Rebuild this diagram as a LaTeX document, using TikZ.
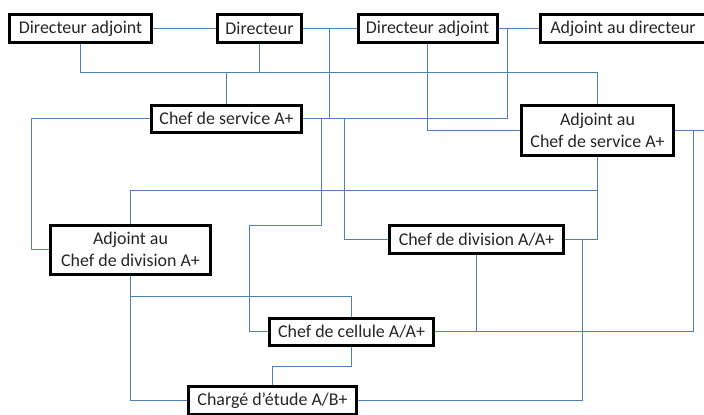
\documentclass[tikz,border=0pt]{standalone}
\usepackage{fontspec}
\setmainfont{Carlito}
\usepackage{tikz}
\definecolor{lienbleu}{HTML}{4F81BD}

\begin{document}
\begin{tikzpicture}[x=1bp,y=-1bp,
	poste/.style={draw=black, line width=3bp, fill=white, inner sep=0pt, align=center, text=black!85, font=\fontsize{18}{22.5}\selectfont},
	lien/.style={draw=lienbleu, line width=1bp}]
				\useasboundingbox (0,0) rectangle (704,414);
				\clip (0,0) rectangle (704,414);
				\node [poste, minimum width=141bp, minimum height=28bp] (DA1) at (80.5,28.5) {Directeur adjoint};
				\node [poste, minimum width=84bp, minimum height=28bp] (D) at (259.5,28.5) {Directeur};
				\node [poste, minimum width=139bp, minimum height=28bp] (DA2) at (427.5,28.5) {Directeur adjoint};
				\node [poste, minimum width=165bp, minimum height=28bp] (AD) at (623,28.5) {Adjoint au directeur};
				\node [poste, minimum width=150bp, minimum height=27bp] (CS) at (226.5,118.5) {Chef de service A+};
				\node [poste, minimum width=152bp, minimum height=50bp] (ACS) at (597.5,130.5) {Adjoint au\\Chef de service A+};
				\node [poste, minimum width=160bp, minimum height=49bp] (ACD) at (130.5,249.5) {Adjoint au\\Chef de division A+};
				\node [poste, minimum width=174bp, minimum height=28bp] (CD) at (476.5,239.5) {Chef de division A/A+};
				\node [poste, minimum width=164bp, minimum height=27bp] (CC) at (351.5,331.5) {Chef de cellule A/A+};
				\node [poste, minimum width=168bp, minimum height=28bp] (CE) at (272.5,400.5) {Charg\'e d'\'etude A/B+};
				\draw [lien] (DA1) -- (D);
				\draw [lien] (D) -- (DA2);
				\draw [lien] (DA2) -- (AD);
				\draw [lien] (DA1.south) -- (80.5,72.5) -| (ACS.north);
				\draw [lien] (D.south) -- (259.5,72.5);
				\draw [lien] (CS.north) -- (226.5,72.5);
				\draw [lien] (D.east) -| (329.5,118.5) -- (CS.east);
				\draw [lien] (CS.east) -| (507.5,28.5);
				\draw [lien] (DA2.south) |- (ACS.west);
				\draw [lien] (ACS.east) -- (706,130.5);
				\draw [lien] (693.5,130.5) |- (CC.east);
				\draw [lien] (CD.south) -- (CD.south |- CC.east);
				\draw [lien] (CS.west) -- (31.5,118.5) |- (ACD.west);
				\draw [lien] (321.5,118.5) |- (249.5,225.5) |- (CC.west);
				\draw [lien] (344.5,118.5) |- (CD.west);
				\draw [lien] (ACS.south) |- (130.5,190.5) -- (ACD.north);
				\draw [lien] (ACS.south) |- (CD.east);
				\draw [lien] (582.5,239.5) |- (CE.east);
				\draw [lien] (ACD.south) |- (351.5,296.5) -- (CC.north);
				\draw [lien] (ACD.south) |- (CE.west);
				\draw [lien] (CC.south) |- (272.5,366.5) -- (CE.north);
\end{tikzpicture}
\end{document}
